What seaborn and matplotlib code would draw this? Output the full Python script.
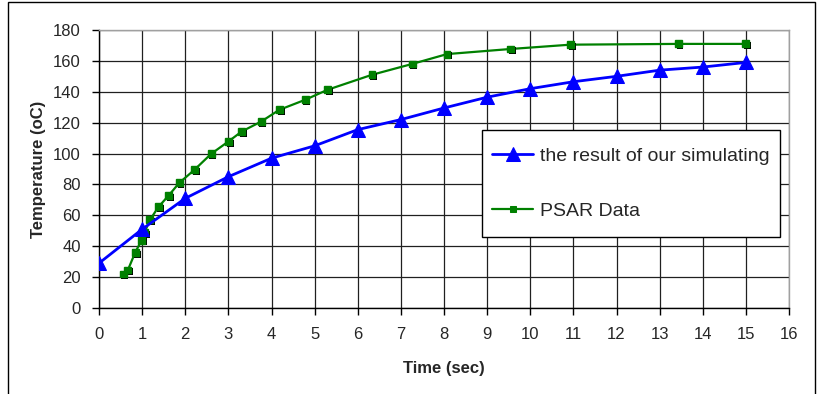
import numpy as np
import matplotlib
matplotlib.use('Agg')
import matplotlib.pyplot as plt
import matplotlib.patheffects as pe
from matplotlib.patches import Rectangle
import seaborn as sns

# data
sim_time = [0, 1, 2, 3, 4, 5, 6, 7, 8, 9, 10, 11, 12, 13, 14, 15]
sim_temp = [29, 51, 71, 85, 97, 105, 115.5, 122, 129.5, 136.5, 142, 146.5, 150, 154, 156, 159]

psar_time = [0.56, 0.67, 0.84, 0.99, 1.05, 1.18, 1.38, 1.62, 1.86, 2.21, 2.6, 3.0,
             3.31, 3.76, 4.18, 4.78, 5.3, 6.33, 7.26, 8.07, 9.54, 10.93, 13.43, 15.0]
psar_temp = [22, 24.6, 36, 44, 48.6, 57, 65.5, 73, 81, 89.4, 99.8, 107.8,
             114.3, 120.7, 128.3, 134.8, 141.3, 151, 158, 164.4, 167.7, 170.5, 171, 171]

x_ticks = list(range(0, 17))
y_ticks = list(range(0, 181, 20))

sns.set_style('white')
plt.rcParams['font.family'] = ['Liberation Sans', 'DejaVu Sans']

fig = plt.figure(figsize=(8.23, 3.94), dpi=100)
ax = fig.add_axes([99/823, 86/394, 690/823, 278/394])

sns.lineplot(x=sim_time, y=sim_temp, ax=ax, color='#0000ff', lw=2, marker='^',
             markersize=10.5, markeredgecolor='#0000ff', label='the result of our simulating',
             zorder=4)
sns.lineplot(x=psar_time, y=psar_temp, ax=ax, color='#008000', lw=1.6, marker='s',
             markersize=5, markeredgecolor='#008000', label='PSAR Data', zorder=3)
# shadowed square markers like the original
ax.plot(psar_time, psar_temp, ls='none', marker='s', markersize=5, color='#008000',
        markeredgecolor='#008000', zorder=3.5,
        path_effects=[pe.SimplePatchShadow(offset=(1.3, -1.3), shadow_rgbFace='black', alpha=1),
                      pe.Normal()])

ax.set_xlim(0, 16)
ax.set_ylim(0, 180)
ax.set_xticks(x_ticks)
ax.set_yticks(y_ticks)
ax.grid(True, color='#202020', lw=0.9)
ax.set_axisbelow(True)

for s in ['left', 'bottom']:
    ax.spines[s].set_color('black')
    ax.spines[s].set_linewidth(1)
for s in ['top', 'right']:
    ax.spines[s].set_color('#a0a0a0')
    ax.spines[s].set_linewidth(1)

ax.tick_params(axis='both', direction='out', length=5, width=1, color='black',
               labelsize=12, bottom=True, left=True)
ax.tick_params(axis='y', pad=8)
ax.tick_params(axis='x', pad=9)

ax.set_xlabel('Time (sec)', fontsize=12, fontweight='bold', labelpad=13)
ax.set_ylabel('Temperature (oC)', fontsize=12, fontweight='bold', labelpad=5)

# legend box (Excel style, a bit taller than the entries need)
ax.add_patch(Rectangle((0.555, 0.255), 0.432, 0.385, transform=ax.transAxes,
                       facecolor='white', edgecolor='black', lw=1, zorder=4.8))
leg = ax.legend(loc='center', bbox_to_anchor=(0.771, 0.4475), fontsize=14,
                frameon=False, borderpad=0.3, labelspacing=1.95, handlelength=2.1,
                handletextpad=0.35, borderaxespad=0)
leg.set_zorder(5)

fig.patches.append(Rectangle((8/823, -0.01), 807/823, 1.005, transform=fig.transFigure,
                             fill=False, edgecolor='black', lw=1))

fig.savefig('out.png', dpi=100)
